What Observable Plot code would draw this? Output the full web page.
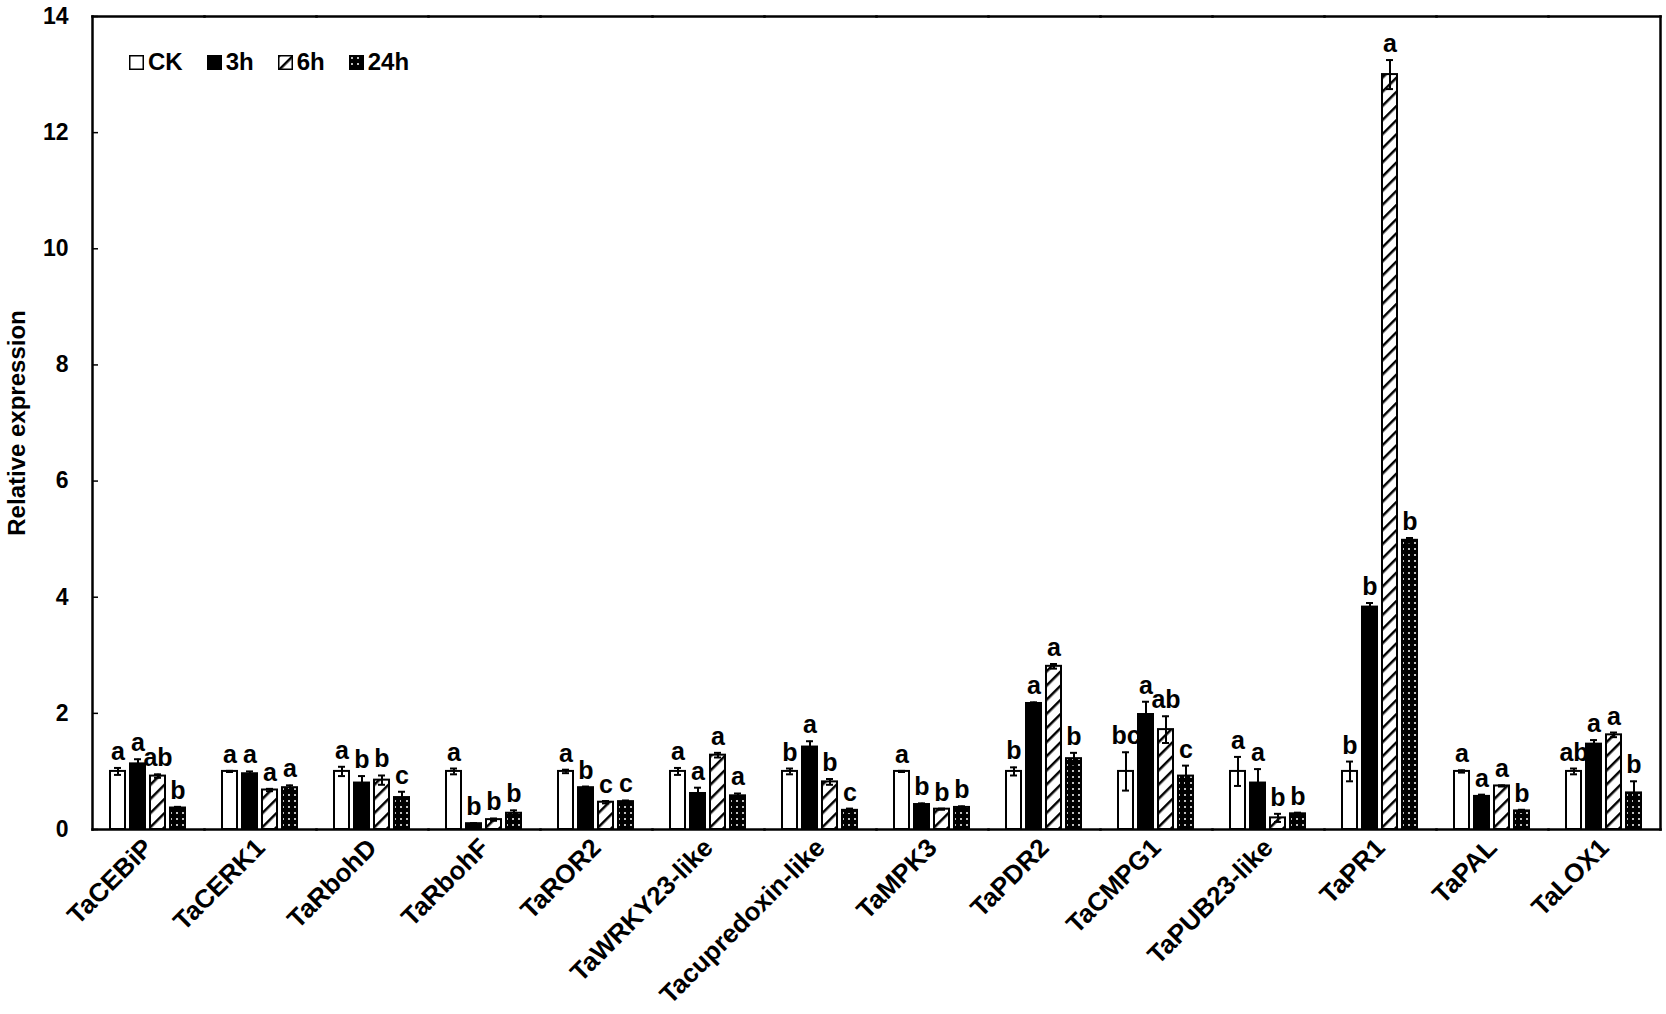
<!DOCTYPE html>
<html>
<head>
<meta charset="utf-8">
<script src="https://cdn.jsdelivr.net/npm/d3@7"></script>
<script src="https://cdn.jsdelivr.net/npm/@observablehq/plot@0.6"></script>
<style>
  html, body { margin: 0; padding: 0; background: white; overflow: hidden; }
  #wrap { position: relative; width: 1666px; height: 1014px; font-family: "Liberation Sans", Arial, sans-serif; }
  #legend { position: absolute; left: 129px; top: 48px; display: flex; gap: 24px; align-items: center;
            font: bold 24px "Liberation Sans", Arial, sans-serif; }
  #legend .item { display: flex; align-items: center; gap: 4px; }
  #legend svg { display: block; }
</style>
</head>
<body>
<svg width="0" height="0" style="position:absolute">
  <defs>
    <pattern id="hatch" patternUnits="userSpaceOnUse" width="10" height="10" patternTransform="rotate(45)">
      <rect width="10" height="10" fill="white"></rect>
      <line x1="0" y1="0" x2="0" y2="10" stroke="black" stroke-width="5"></line>
    </pattern>
    <pattern id="dots" patternUnits="userSpaceOnUse" width="6" height="6">
      <rect width="6" height="6" fill="black"></rect>
      <circle cx="3" cy="3" r="1" fill="white"></circle>
    </pattern>
  </defs>
</svg>
<div id="wrap">
  <div id="chart"></div>
  <div id="legend"></div>
</div>
<script>
const genes = ["TaCEBiP","TaCERK1","TaRbohD","TaRbohF","TaROR2","TaWRKY23-like","Tacupredoxin-like","TaMPK3","TaPDR2","TaCMPG1","TaPUB23-like","TaPR1","TaPAL","TaLOX1"];
const times = ["CK","3h","6h","24h"];
const fills = ["white","black","url(#hatch)","url(#dots)"];
const yTicks = [0,2,4,6,8,10,12,14];

const ckMean  = [1.00,1.00,1.00,1.00,1.00,1.00,1.00,1.00,1.00,1.00,1.00,1.00,1.00,1.00];
const ckErr   = [0.06,0.01,0.08,0.05,0.03,0.06,0.05,0.01,0.07,0.33,0.25,0.17,0.02,0.05];
const ckSig   = ["a","a","a","a","a","a","b","a","b","bc","a","b","a","ab"];

const h3Mean  = [1.13,0.96,0.80,0.10,0.72,0.62,1.42,0.43,2.17,1.98,0.80,3.83,0.57,1.47];
const h3Err   = [0.08,0.04,0.12,0.01,0.02,0.10,0.10,0.02,0.02,0.22,0.24,0.07,0.03,0.07];
const h3Sig   = ["a","a","b","b","b","a","a","b","a","a","a","b","a","a"];

const h6Mean  = [0.92,0.68,0.85,0.17,0.47,1.28,0.82,0.35,2.81,1.72,0.20,13.0,0.75,1.63];
const h6Err   = [0.03,0.02,0.08,0.02,0.02,0.04,0.05,0.01,0.04,0.23,0.07,0.25,0.01,0.04];
const h6Sig   = ["ab","a","b","b","c","a","b","b","a","ab","b","a","a","a"];

const h24Mean = [0.37,0.72,0.55,0.28,0.48,0.58,0.33,0.38,1.22,0.92,0.27,4.98,0.32,0.63];
const h24Err  = [0.02,0.04,0.10,0.05,0.02,0.04,0.03,0.02,0.10,0.18,0.02,0.04,0.02,0.20];
const h24Sig  = ["b","a","c","b","c","a","c","b","b","c","b","b","b","b"];

const series = [[ckMean, ckErr, ckSig], [h3Mean, h3Err, h3Sig], [h6Mean, h6Err, h6Sig], [h24Mean, h24Err, h24Sig]];
const rows = [];
genes.forEach((g, gi) => {
  times.forEach((t, ti) => {
    const [m, e, s] = series[ti];
    rows.push({gene: g, time: t, value: m[gi], err: e[gi], sig: s[gi]});
  });
});

const font = "'Liberation Sans', Arial, sans-serif";
const chart = Plot.plot({
  width: 1666,
  height: 1014,
  marginLeft: 92,
  marginRight: 6,
  marginTop: 16,
  marginBottom: 185,
  style: {fontFamily: font, fontWeight: "bold", background: "white", color: "black", overflow: "visible"},
  fx: {domain: genes, paddingInner: 0, paddingOuter: 0, label: null},
  x: {domain: times, paddingInner: 0.24, paddingOuter: 0.79, axis: null},
  y: {domain: [0, 14]},
  color: {type: "ordinal", domain: times, range: fills},
  marks: [
    Plot.barY(rows, {fx: "gene", x: "time", y: "value", fill: "time", stroke: "black", strokeWidth: 2}),
    Plot.ruleX(rows, {fx: "gene", x: "time", y1: d => d.value - d.err, y2: d => d.value + d.err, stroke: "black", strokeWidth: 2}),
    Plot.tickY(rows, {fx: "gene", x: "time", y: d => d.value + d.err, insetLeft: 4, insetRight: 4, stroke: "black", strokeWidth: 2}),
    Plot.tickY(rows, {fx: "gene", x: "time", y: d => d.value - d.err, insetLeft: 4, insetRight: 4, stroke: "black", strokeWidth: 2}),
    Plot.text(rows, {fx: "gene", x: "time", y: d => d.value + d.err, text: "sig", dy: -8, lineAnchor: "bottom", fontSize: 25, fontWeight: "bold", fill: "black"}),
    Plot.frame({anchor: "top", strokeWidth: 2.5}),
    Plot.frame({anchor: "bottom", strokeWidth: 2.5}),
    Plot.frame({anchor: "left", facetAnchor: "left", strokeWidth: 2.5}),
    Plot.frame({anchor: "right", facetAnchor: "right", strokeWidth: 2.5}),
    Plot.tickY(yTicks, {y: d => d, facetAnchor: "left", insetRight: 106, strokeWidth: 1.5}),
    Plot.axisY({ticks: yTicks, tickSize: 0, tickPadding: 24, fontSize: 23, fontWeight: "bold", label: null}),
    Plot.text(["Relative expression"], {frameAnchor: "left", facetAnchor: "left", textAnchor: "middle", lineAnchor: "middle", rotate: -90, dx: -75, fontSize: 24, fontWeight: "bold", fill: "black"}),
    Plot.axisFx({anchor: "bottom", tickRotate: -45, tickSize: 0, tickPadding: 14, fontSize: 26, fontWeight: "bold", label: null})
  ]
});
document.getElementById("chart").appendChild(chart);

const legend = document.getElementById("legend");
times.forEach((t, i) => {
  const item = document.createElement("div");
  item.className = "item";
  item.innerHTML = `<svg width="15" height="15"><rect x="0.75" y="0.75" width="13.5" height="13.5" fill="${fills[i]}" stroke="black" stroke-width="1.5"></rect></svg><span>${t}</span>`;
  legend.appendChild(item);
});
</script>
</body>
</html>
